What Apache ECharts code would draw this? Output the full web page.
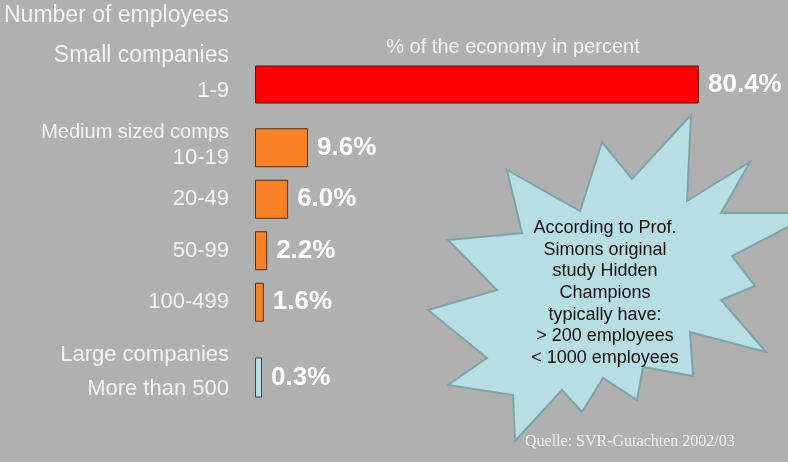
<!DOCTYPE html>
<html>
<head>
<meta charset="utf-8">
<title>Number of employees – share of the economy</title>
<script src="https://cdn.jsdelivr.net/npm/echarts@6/dist/echarts.min.js"></script>
<style>
  html, body { margin: 0; padding: 0; background: #b0b0b0; }
  #chart { width: 788px; height: 462px; }
</style>
</head>
<body>
<div id="chart"></div>
<script>
// Company size groups, employee bands and each band's share of the economy (%)
const sectionTitles = ['Small companies', 'Medium sized comps', 'Large companies'];
const employeeBands = [['1-9'], ['10-19', '20-49', '50-99', '100-499'], ['More than 500']];
const economyShare = [[80.4], [9.6, 6.0, 2.2, 1.6], [0.3]];

const FONT = '"Liberation Sans", Arial, Helvetica, sans-serif';
const TEXT = '#f4f4f4';

// One grid per size group; all share the same horizontal scale
const groupLayout = [
  { top: 60,  height: 49,  barWidth: 38, headSize: 23, headLH: 12, bandLH: 58,
    fill: '#ff0000', border: '#5a1414', minLen: 0 },
  { top: 122, height: 206, barWidth: 39, headSize: 20, headLH: 20, bandLH: 30,
    fill: '#fa8226', border: '#4a3020', minLen: 0 },
  { top: 352, height: 51,  barWidth: 40, headSize: 22, headLH: 22, bandLH: 46,
    fill: '#b9dfe6', border: '#3d4a4c', minLen: 7 }
];

const grids = [], xAxes = [], yAxes = [], series = [];
groupLayout.forEach((g, i) => {
  grids.push({ left: 255, width: 497, top: g.top, height: g.height });
  xAxes.push({ type: 'value', gridIndex: i, min: 0, max: 90, show: false });
  yAxes.push({
    type: 'category', gridIndex: i, inverse: true,
    data: employeeBands[i],
    axisLine: { show: false }, axisTick: { show: false }, splitLine: { show: false },
    axisLabel: {
      margin: 26,
      color: TEXT,
      fontFamily: FONT,
      fontSize: 22,
      formatter: (v, idx) => idx === 0
        ? '{h|' + sectionTitles[i] + '}\n{b|' + v + '}'
        : '{s|' + v + '}',
      rich: {
        h: { fontSize: g.headSize, lineHeight: g.headLH, color: TEXT, fontFamily: FONT },
        b: { fontSize: 22, lineHeight: g.bandLH, color: TEXT, fontFamily: FONT },
        s: { fontSize: 22, color: TEXT, fontFamily: FONT }
      }
    }
  });
  series.push({
    type: 'bar',
    xAxisIndex: i, yAxisIndex: i,
    data: economyShare[i],
    barWidth: g.barWidth,
    barMinHeight: g.minLen,
    itemStyle: { color: g.fill, borderColor: g.border, borderWidth: 1 },
    label: {
      show: true, position: 'right', distance: 9,
      formatter: p => p.value.toFixed(1) + '%',
      color: '#ffffff', fontWeight: 'bold', fontSize: 26, fontFamily: FONT
    }
  });
});

const chart = echarts.init(document.getElementById('chart'), null, { renderer: 'canvas' });
chart.setOption({
  backgroundColor: '#b0b0b0',
  animation: false,
  grid: grids,
  xAxis: xAxes,
  yAxis: yAxes,
  series: series,
  graphic: [
    {
      type: 'text', x: 229, y: 16, z: 10,
      style: { text: 'Number of employees', fill: TEXT, fontSize: 23, fontFamily: FONT,
               align: 'right', verticalAlign: 'middle' }
    },
    {
      type: 'text', x: 513, y: 47, z: 10,
      style: { text: '% of the economy in percent', fill: TEXT, fontSize: 20, fontFamily: FONT,
               align: 'center', verticalAlign: 'middle' }
    },
    {
      // callout burst
      type: 'polygon', z: 5,
      shape: {
        points: [
          [691, 115], [687, 201], [750, 162], [721, 213], [815, 213], [732, 256],
          [755, 286], [721, 300], [766, 352], [690, 332], [693, 376], [643, 367],
          [637, 400], [603, 378], [582, 412], [562, 390], [515, 441], [513, 395],
          [448, 385], [487, 358], [428, 310], [497, 290], [448, 240], [522, 233],
          [507, 170], [580, 211], [602, 142], [632, 179]
        ]
      },
      style: { fill: '#b6dee3', stroke: '#7ea4a9', lineWidth: 2 }
    },
    {
      type: 'text', x: 605, y: 293, z: 6,
      style: {
        text: 'According to Prof.\nSimons original\nstudy Hidden\nChampions\ntypically have:\n> 200 employees\n< 1000 employees',
        fill: '#111111', fontSize: 18, lineHeight: 21.7, fontFamily: FONT,
        align: 'center', verticalAlign: 'middle'
      }
    },
    {
      type: 'text', x: 525, y: 442, z: 10,
      style: { text: 'Quelle: SVR-Gutachten 2002/03', fill: '#f2f2f2', fontSize: 16,
               fontFamily: '"Liberation Serif", "DejaVu Serif", serif',
               align: 'left', verticalAlign: 'middle' }
    }
  ]
});
</script>
</body>
</html>
